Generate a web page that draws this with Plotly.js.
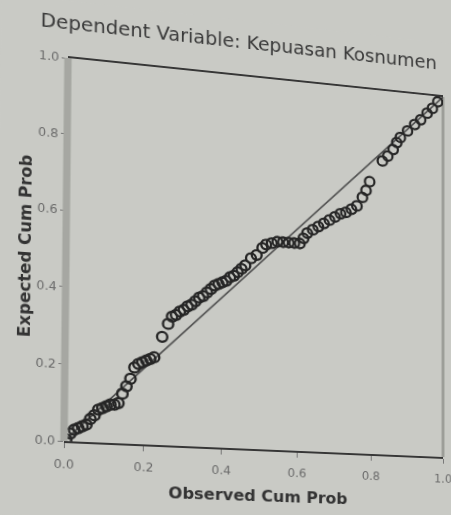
<!DOCTYPE html>
<html>
<head>
<meta charset="utf-8">
<script src="https://cdn.plot.ly/plotly-3.0.1.min.js"></script>
<style>
  html, body { margin:0; padding:0; background:#c9cac5; overflow:hidden; width:451px; height:515px; }
  #chart { position:absolute; left:0; top:0; width:451px; height:515px; transform-origin:0 0; filter: blur(0.6px); }
</style>
</head>
<body>
<div id="chart"></div>
<script>
// Observed cumulative probability (x) and expected cumulative probability (y)
const observed = [0.005,0.015,0.025,0.035,0.045,0.055,0.065,0.075,0.085,0.095,
  0.105,0.115,0.125,0.135,0.145,0.155,0.165,0.175,0.185,0.195,
  0.205,0.215,0.225,0.245,0.26,0.27,0.28,0.29,0.30,0.31,
  0.32,0.33,0.34,0.35,0.36,0.37,0.38,0.39,0.40,0.41,
  0.42,0.43,0.44,0.45,0.46,0.475,0.49,0.505,0.515,0.53,
  0.545,0.56,0.575,0.59,0.605,0.615,0.625,0.64,0.655,0.67,
  0.685,0.70,0.715,0.73,0.745,0.76,0.775,0.785,0.795,0.83,
  0.845,0.86,0.87,0.88,0.90,0.92,0.937,0.955,0.97,0.985];
const expected = [0.005,0.02,0.03,0.035,0.04,0.045,0.06,0.07,0.085,0.09,
  0.095,0.10,0.10,0.105,0.13,0.15,0.17,0.20,0.21,0.215,
  0.22,0.225,0.23,0.285,0.32,0.34,0.345,0.355,0.36,0.37,
  0.375,0.385,0.395,0.40,0.41,0.42,0.43,0.435,0.44,0.445,
  0.455,0.46,0.47,0.48,0.49,0.51,0.52,0.54,0.55,0.555,
  0.56,0.56,0.56,0.56,0.56,0.575,0.59,0.60,0.61,0.62,
  0.63,0.64,0.65,0.655,0.665,0.675,0.70,0.72,0.745,0.805,
  0.82,0.84,0.86,0.875,0.895,0.915,0.93,0.95,0.965,0.985];
const diagX = [0, 1];
const diagY = [0, 1];
const tickVals = [0, 0.2, 0.4, 0.6, 0.8, 1.0];
const tickText = ["0.0", "0.2", "0.4", "0.6", "0.8", "1.0"];

const titleText = "Dependent Variable: Kepuasan Kosnumen";
const xTitle = "Observed Cum Prob";
const yTitle = "Expected Cum Prob";

const bg = "#c9cac5";
const tickFont = {family: "DejaVu Sans", size: 12, color: "#6a6a6a"};

const traces = [
  {x: diagX, y: diagY, mode: "lines", type: "scatter",
   line: {color: "#505050", width: 1.6}, hoverinfo: "skip", showlegend: false},
  {x: observed, y: expected, mode: "markers", type: "scatter",
   marker: {symbol: "circle-open", size: 10, color: "#262626", line: {width: 2.3, color: "#262626"}},
   showlegend: false}
];

const layout = {
  width: 451, height: 515,
  margin: {l: 63, r: 9, t: 58, b: 74},
  paper_bgcolor: bg, plot_bgcolor: bg,
  showlegend: false,
  title: {text: titleText, x: 236/451, xref: "container", xanchor: "center",
          y: 1 - 22/515, yref: "container", yanchor: "middle",
          font: {family: "DejaVu Sans", size: 19, color: "#3a3a3a"}},
  xaxis: {range: [0, 1], tickvals: tickVals, ticktext: tickText,
          showgrid: false, zeroline: false,
          showline: true, linecolor: "#363636", linewidth: 2, mirror: true,
          ticks: "outside", ticklen: 5, tickcolor: "#777", tickwidth: 1,
          ticklabelstandoff: 6, ticklabeloverflow: "allow", tickfont: tickFont,
          title: {text: xTitle, standoff: 12,
                  font: {family: "DejaVu Sans", size: 16, color: "#333", weight: "bold"}}},
  yaxis: {range: [0, 1], tickvals: tickVals, ticktext: tickText,
          showgrid: false, zeroline: false,
          showline: false,
          ticks: "outside", ticklen: 5, tickcolor: "#777", tickwidth: 1,
          tickfont: tickFont, ticklabeloverflow: "allow",
          title: {text: yTitle, standoff: 0,
                  font: {family: "DejaVu Sans", size: 16.5, color: "#333", weight: "bold"}}},
  shapes: [
    {type: "line", xref: "paper", yref: "paper", x0: 0, x1: 0, y0: 0, y1: 1,
     line: {color: "#a6a7a2", width: 7}, layer: "above"},
    {type: "line", xref: "paper", yref: "paper", x0: 1, x1: 1, y0: 0, y1: 1,
     line: {color: "#9c9d98", width: 3}, layer: "below"}
  ]
};

Plotly.newPlot("chart", traces, layout, {displayModeBar: false, staticPlot: true}).then(function () {
  // perspective of the photographed screen: map the plot rectangle to the observed quadrilateral
  const src = [[63,58],[442,58],[442,441],[63,441]];
  const dst = [[68,58],[443,97],[443,457],[64,441]];
  const A = [], b = [];
  for (let i = 0; i < 4; i++) {
    const [x, y] = src[i], [u, v] = dst[i];
    A.push([x, y, 1, 0, 0, 0, -x*u, -y*u]); b.push(u);
    A.push([0, 0, 0, x, y, 1, -x*v, -y*v]); b.push(v);
  }
  const n = 8;
  for (let c = 0; c < n; c++) {
    let p = c;
    for (let r = c+1; r < n; r++) if (Math.abs(A[r][c]) > Math.abs(A[p][c])) p = r;
    [A[c], A[p]] = [A[p], A[c]]; [b[c], b[p]] = [b[p], b[c]];
    for (let r = 0; r < n; r++) {
      if (r === c) continue;
      const f = A[r][c] / A[c][c];
      for (let k = c; k < n; k++) A[r][k] -= f * A[c][k];
      b[r] -= f * b[c];
    }
  }
  const h = b.map((val, i) => val / A[i][i]);
  const m = [h[0], h[3], 0, h[6], h[1], h[4], 0, h[7], 0, 0, 1, 0, h[2], h[5], 0, 1];
  document.getElementById("chart").style.transform = "matrix3d(" + m.join(",") + ")";
});
</script>
</body>
</html>
